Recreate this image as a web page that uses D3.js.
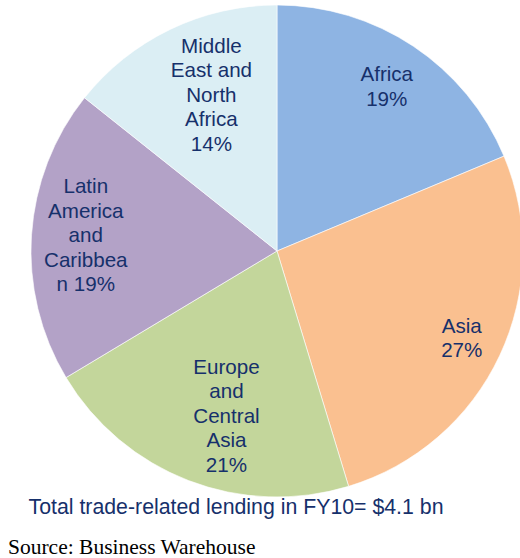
<!DOCTYPE html>
<html>
<head>
<meta charset="utf-8">
<script src="https://cdn.jsdelivr.net/npm/d3@7"></script>
<style>
  body { margin: 0; background: #fff; }
  svg { display: block; }
</style>
</head>
<body>
<script>
// regions, clockwise from 12 o'clock
const regions = ["Africa", "Asia", "Europe and Central Asia", "Latin America and Caribbean", "Middle East and North Africa"];
// shares (the labels show them rounded)
const shares = [18.7, 26.6, 21.1, 19.3, 14.3];
// label text as it wraps in the picture
const labelLines = [
  ["Africa", "19%"],
  ["Asia", "27%"],
  ["Europe", "and", "Central", "Asia", "21%"],
  ["Latin", "America", "and", "Caribbea", "n 19%"],
  ["Middle", "East and", "North", "Africa", "14%"]
];
const note = "Total trade-related lending in FY10= $4.1 bn";
const source = "Source: Business Warehouse";

const width = 520, height = 558;
const cx = 277, cy = 251, r = 246;
const colors = ["#8EB4E3", "#FAC090", "#C3D69B", "#B3A2C7", "#DBEEF4"];
const labelRadius = [0.805, 0.83, 0.7, 0.78, 0.69]; // fraction of r, per slice
const labelTurn = [0, 0, -4, 1, 3];                  // degrees off the slice middle
const lineH = 24.5;
const navy = "#16306b";

const svg = d3.select("body").append("svg")
  .attr("width", width)
  .attr("height", height);

const pie = d3.pie().sort(null).value(d => d);
const arcs = pie(shares);
const arc = d3.arc().innerRadius(0).outerRadius(r);

const g = svg.append("g").attr("transform", `translate(${cx},${cy})`);

g.selectAll("path")
  .data(arcs)
  .join("path")
  .attr("d", arc)
  .attr("fill", (d, i) => colors[i])
  .attr("stroke", "#fff")
  .attr("stroke-width", 0.6);

// labels sit on a ring inside each slice
const labels = g.selectAll("text.label")
  .data(arcs)
  .join("text")
  .classed("label", true)
  .attr("transform", (d, i) => {
    const lr = r * labelRadius[i];
    const a = (d.startAngle + d.endAngle) / 2 + labelTurn[i] * Math.PI / 180;
    return `translate(${lr * Math.sin(a)},${-lr * Math.cos(a)})`;
  })
  .attr("text-anchor", "middle")
  .attr("font-family", "Liberation Sans, Arial, sans-serif")
  .attr("font-size", 20.6)
  .attr("fill", navy);

labels.each(function(d, i) {
  const lines = labelLines[i];
  const y0 = -(lines.length - 1) * lineH / 2;
  d3.select(this).selectAll("tspan")
    .data(lines)
    .join("tspan")
    .attr("x", 0)
    .attr("y", (t, k) => y0 + k * lineH)
    .attr("dy", "0.35em")
    .text(t => t);
});

svg.append("text")
  .attr("x", 236)
  .attr("y", 507)
  .attr("dy", "0.35em")
  .attr("text-anchor", "middle")
  .attr("font-family", "Liberation Sans, Arial, sans-serif")
  .attr("font-size", 21.3)
  .attr("fill", navy)
  .text(note);

svg.append("text")
  .attr("x", 8)
  .attr("y", 554)
  .attr("font-family", "Liberation Serif, Times New Roman, serif")
  .attr("font-size", 21.5)
  .attr("fill", "#000")
  .text(source);
</script>
</body>
</html>
